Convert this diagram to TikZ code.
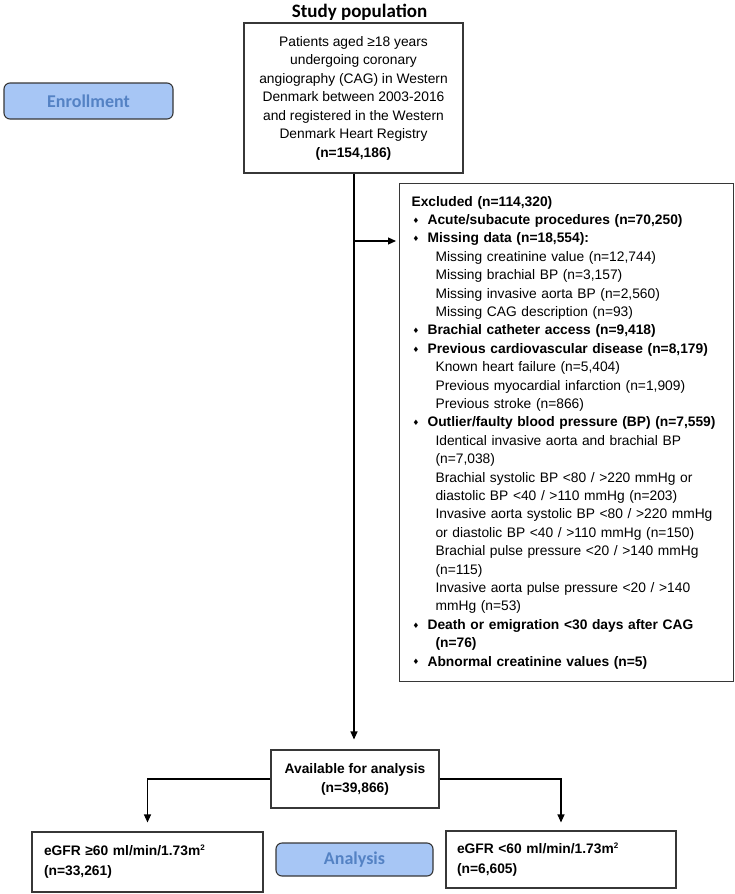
\documentclass[tikz,border=0pt]{standalone}
\usepackage{fontspec}
\setmainfont{Liberation Sans}
\newfontfamily\calib{Carlito}
\newfontfamily\djv{DejaVu Sans}
\usetikzlibrary{arrows.meta}
\definecolor{bluefill}{RGB}{167,198,245}
\definecolor{bluetext}{RGB}{84,130,196}
\definecolor{boxline}{RGB}{55,55,55}
\newcommand{\bul}{\makebox[16pt][l]{\hspace*{1pt}\raisebox{1.2pt}{\djv\fontsize{7.5}{7.5}\selectfont ♦}}}
\newcommand{\subind}{\hspace*{24pt}}
\newcommand{\sqr}{\raisebox{5pt}{\fontsize{8}{8}\selectfont 2}}
\begin{document}
\begin{tikzpicture}[x=1pt,y=-1pt,
  box/.style={draw=boxline,line width=1.1pt,fill=white,font=\fontsize{13.8}{18.5}\selectfont},
  tag/.style={draw=boxline,line width=1.1pt,fill=bluefill,rounded corners=6pt,text=bluetext,font=\calib\bfseries\fontsize{18}{20}\selectfont},
  arr/.style={line width=1.1pt,-{Triangle[length=8pt,width=7pt]}}]
\useasboundingbox (0,0) rectangle (735,894);
\node[font=\calib\bfseries\fontsize{19}{22}\selectfont] (title) at (359.5,12) {Study population};
\node[tag, minimum width=169pt, minimum height=36pt] (enr) at (88.5,101) {Enrollment};
\node[box, align=center, minimum width=219pt, minimum height=150pt] (top) at (353.5,98)
  {Patients aged ≥18 years\\undergoing coronary\\angiography (CAG) in Western\\Denmark between 2003-2016\\and registered in the Western\\Denmark Heart Registry\\\textbf{(n=154,186)}};
\node[box, anchor=north west, align=left, text width=310pt, inner xsep=12pt,
      minimum width=334pt, minimum height=498pt, font=\fontsize{13.8}{18.4}\selectfont] (excl) at (399,183)
  {\textbf{Excluded (n=114,320)}\\
   \bul\textbf{Acute/subacute procedures (n=70,250)}\\
   \bul\textbf{Missing data (n=18,554):}\\
   \subind Missing creatinine value (n=12,744)\\
   \subind Missing brachial BP (n=3,157)\\
   \subind Missing invasive aorta BP (n=2,560)\\
   \subind Missing CAG description (n=93)\\
   \bul\textbf{Brachial catheter access (n=9,418)}\\
   \bul\textbf{Previous cardiovascular disease (n=8,179)}\\
   \subind Known heart failure (n=5,404)\\
   \subind Previous myocardial infarction (n=1,909)\\
   \subind Previous stroke (n=866)\\
   \bul\textbf{Outlier/faulty blood pressure (BP) (n=7,559)}\\
   \subind Identical invasive aorta and brachial BP\\
   \subind (n=7,038)\\
   \subind Brachial systolic BP <80 / >220 mmHg or\\
   \subind diastolic BP <40 / >110 mmHg (n=203)\\
   \subind Invasive aorta systolic BP <80 / >220 mmHg\\
   \subind or diastolic BP <40 / >110 mmHg (n=150)\\
   \subind Brachial pulse pressure <20 / >140 mmHg\\
   \subind (n=115)\\
   \subind Invasive aorta pulse pressure <20 / >140\\
   \subind mmHg (n=53)\\
   \bul\textbf{Death or emigration <30 days after CAG}\\
   \subind\textbf{(n=76)}\\
   \bul\textbf{Abnormal creatinine values (n=5)}};
\node[box, align=center, minimum width=168pt, minimum height=58pt, font=\bfseries\fontsize{13.8}{19}\selectfont] (avail) at (355,779)
  {Available for analysis\\(n=39,866)};
\node[box, align=left, text width=207pt, inner xsep=12pt, minimum width=231pt, minimum height=60pt, font=\bfseries\fontsize{13.8}{20}\selectfont] (ge) at (147.5,862)
  {eGFR ≥60 ml/min/1.73m\sqr\\(n=33,261)};
\node[box, align=left, text width=208pt, inner xsep=11pt, minimum width=230pt, minimum height=57pt, font=\bfseries\fontsize{13.8}{20}\selectfont] (lt) at (561,859.5)
  {eGFR <60 ml/min/1.73m\sqr\\(n=6,605)};
\node[tag, minimum width=157pt, minimum height=33pt] (ana) at (354.5,859.5) {Analysis};
\coordinate (split) at (354,241);
\draw[line width=1.1pt] (top.south -| split) -- (split);
\draw[arr, shorten >=10pt] (split) -- (split |- avail.north);
\draw[arr, shorten >=3pt] (split) -- (excl.west |- split);
\draw[arr, shorten >=9pt] (avail.west) -| (ge.north);
\draw[arr, shorten >=8pt] (avail.east) -| (lt.north);
\end{tikzpicture}
\end{document}
